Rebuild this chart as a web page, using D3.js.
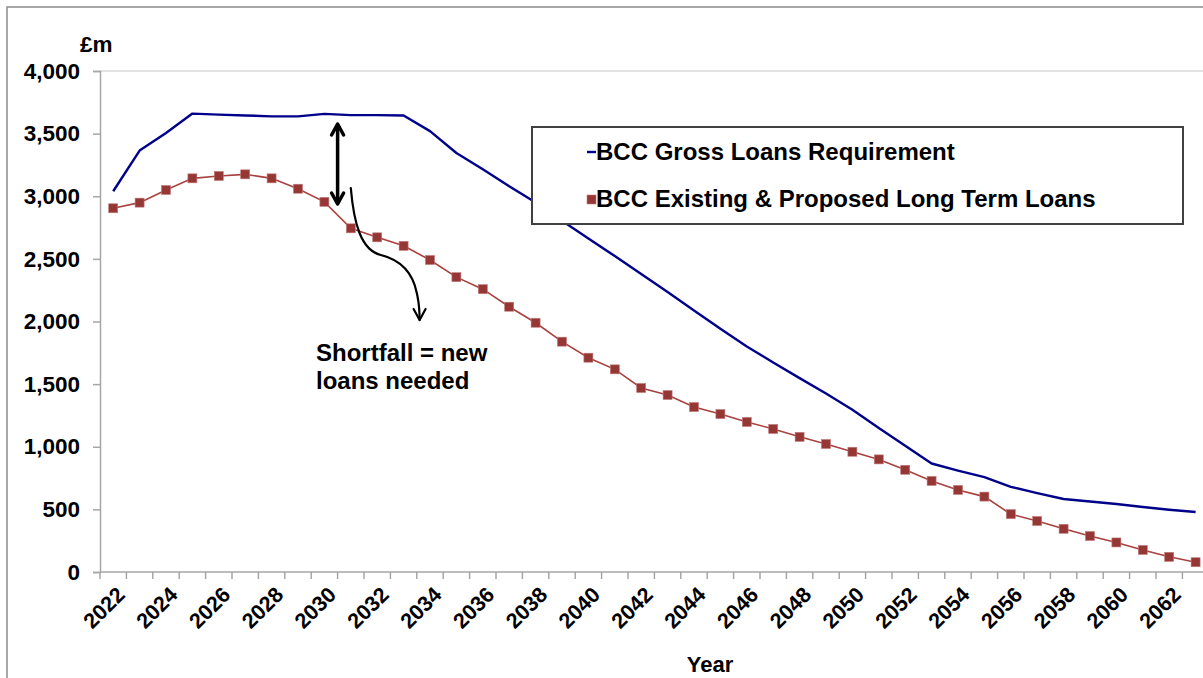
<!DOCTYPE html>
<html><head><meta charset="utf-8">
<script src="https://cdn.jsdelivr.net/npm/d3@7"></script>
<style>
html,body{margin:0;padding:0;background:#fff;}
svg{display:block;font-family:"Liberation Sans",Arial,sans-serif;font-weight:bold;}
</style></head>
<body>
<svg id="chart" width="1203" height="678"></svg>
<script>
const years = d3.range(2022, 2064);
const grossLoans = [3040,3365,3505,3660,3652,3645,3638,3638,3658,3648,3648,3645,3520,3345,3215,3080,2950,2805,2663,2522,2380,2235,2088,1942,1800,1673,1548,1425,1295,1150,1008,866,810,758,680,630,583,563,543,519,497,479];
const existingLoans = [2904,2949,3050,3143,3162,3175,3143,3060,2955,2744,2672,2604,2491,2354,2258,2118,1990,1839,1711,1618,1469,1413,1317,1261,1198,1142,1079,1022,960,899,816,727,655,602,462,407,345,287,236,176,121,78];
const yTicks = [0,500,1000,1500,2000,2500,3000,3500,4000];
const xLabelYears = d3.range(2022, 2063, 2);
const seriesNames = ["BCC Gross Loans Requirement","BCC Existing & Proposed Long Term Loans"];

const svg = d3.select("#chart");
const mLeft = 100, mTop = 71, mBottom = 572, bandW = 26.4;
const x = d3.scaleBand().domain(years).range([mLeft, mLeft + years.length*bandW]).padding(0);
const y = d3.scaleLinear().domain([0,4000]).range([mBottom, mTop]);
const cx = yr => x(yr) + x.bandwidth()/2;

// outer border
svg.append("rect").attr("x",7).attr("y",7).attr("width",1230).attr("height",700)
  .attr("fill","none").attr("stroke","#8c8c8c").attr("stroke-width",1.5);

// top gridline
svg.append("line").attr("x1",mLeft).attr("x2",1210).attr("y1",y(4000)).attr("y2",y(4000))
  .attr("stroke","#d9d9d9").attr("stroke-width",1.5);

// y axis
const yAxis = svg.append("g").attr("transform",`translate(${mLeft},0)`)
  .call(d3.axisLeft(y).tickValues(yTicks).tickFormat(d3.format(",")).tickSize(7).tickPadding(13));
yAxis.select(".domain").attr("stroke","#a6a6a6").attr("stroke-width",1.5);
yAxis.selectAll(".tick line").attr("stroke","#a6a6a6").attr("stroke-width",1.5);
yAxis.selectAll("text").attr("font-size",22.5).attr("fill","#000")
  .attr("font-family","Liberation Sans, Arial, sans-serif").attr("font-weight","bold");

svg.append("text").attr("x",80).attr("y",52).attr("font-size",22.5).text("£m");

// x axis
svg.append("line").attr("x1",mLeft).attr("x2",1210).attr("y1",mBottom).attr("y2",mBottom)
  .attr("stroke","#a6a6a6").attr("stroke-width",1.5);
svg.append("g").selectAll("line").data(years).join("line")
  .attr("x1",d=>x(d)).attr("x2",d=>x(d)).attr("y1",mBottom).attr("y2",mBottom+7)
  .attr("stroke","#a6a6a6").attr("stroke-width",1.5);
svg.append("g").selectAll("text").data(xLabelYears).join("text")
  .attr("text-anchor","end").attr("font-size",21.5)
  .attr("transform",d=>`translate(${cx(d)+13},${596}) rotate(-45)`)
  .text(d=>d);
svg.append("text").attr("x",710).attr("y",672).attr("text-anchor","middle").attr("font-size",22).text("Year");

// series lines
const line = d3.line().x((d,i)=>cx(years[i])).y(d=>y(d));
svg.append("path").datum(existingLoans).attr("d",line).attr("fill","none")
  .attr("stroke","#a8423f").attr("stroke-width",1.6);
svg.append("g").selectAll("rect").data(existingLoans).join("rect")
  .attr("x",(d,i)=>cx(years[i])-4.5).attr("y",d=>y(d)-4.5).attr("width",9).attr("height",9)
  .attr("fill","#953735").attr("stroke","#c27a78").attr("stroke-width",0.6);
svg.append("path").datum(grossLoans).attr("d",line).attr("fill","none")
  .attr("stroke","#00008b").attr("stroke-width",2.4).attr("stroke-linejoin","round");

// legend
const lg = svg.append("g");
lg.append("rect").attr("x",532).attr("y",127).attr("width",651).attr("height",97)
  .attr("fill","#fff").attr("stroke","#404040").attr("stroke-width",2);
lg.append("line").attr("x1",587).attr("x2",596).attr("y1",152).attr("y2",152)
  .attr("stroke","#00008b").attr("stroke-width",2.4);
lg.append("rect").attr("x",587).attr("y",195).attr("width",9).attr("height",9)
  .attr("fill","#953735").attr("stroke","#c27a78").attr("stroke-width",0.6);
lg.append("text").attr("x",596).attr("y",160).attr("font-size",24).text(seriesNames[0]);
lg.append("text").attr("x",596).attr("y",207).attr("font-size",24).text(seriesNames[1]);

// annotations
const ax = (cx(2030)+cx(2031))/2;
const yTop = y(3585), yBot = y(2930);
const ann = svg.append("g").attr("fill","none").attr("stroke","#000").attr("stroke-linecap","round").attr("stroke-linejoin","round");
ann.append("line").attr("x1",ax).attr("x2",ax).attr("y1",yTop+2).attr("y2",yBot-2).attr("stroke-width",3.5);
ann.append("path").attr("d",`M${ax-6},${yTop+12} L${ax},${yTop+1} L${ax+6},${yTop+12}`).attr("stroke-width",3.5);
ann.append("path").attr("d",`M${ax-6},${yBot-12} L${ax},${yBot-1} L${ax+6},${yBot-12}`).attr("stroke-width",3.5);

const sx = cx(2031), sy = y(3066);
const ex = cx(2033)+16, ey = y(2012);
ann.append("path").attr("stroke-width",2.2)
  .attr("d",`M${sx},${sy} C${sx+3},${sy+35} ${sx+10},${sy+62} ${sx+30},${sy+67} C${sx+50},${sy+72} ${sx+62},${sy+85} ${sx+66},${sy+105} C${sx+68},${sy+115} ${ex},${ey-15} ${ex},${ey}`);
ann.append("path").attr("stroke-width",2.2).attr("d",`M${ex-6},${ey-11} L${ex},${ey} L${ex+6},${ey-11}`);

svg.append("text").attr("x",316).attr("y",361).attr("font-size",24).text("Shortfall = new");
svg.append("text").attr("x",316).attr("y",389).attr("font-size",24).text("loans needed");
</script>
</body></html>
